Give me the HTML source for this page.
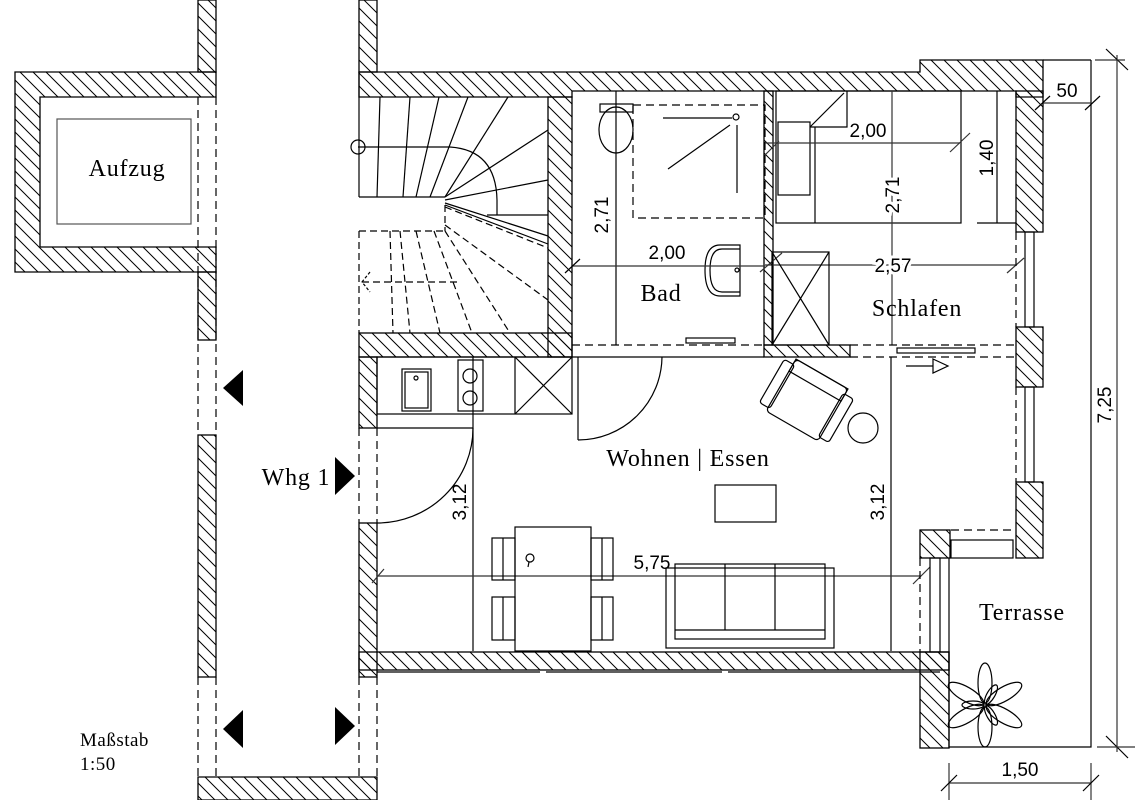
<!DOCTYPE html>
<html><head><meta charset="utf-8"><style>
html,body{margin:0;padding:0;background:#fff}
svg{display:block}
.t{font-family:"Liberation Serif",serif;font-size:24px;letter-spacing:0.8px;fill:#000}
.m{font-family:"Liberation Serif",serif;font-size:19px;letter-spacing:0.5px;fill:#000}
.d text{font-family:"Liberation Sans",sans-serif;font-size:19px;fill:#000}
</style></head><body>
<svg width="1135" height="800" viewBox="0 0 1135 800" xmlns="http://www.w3.org/2000/svg">
<defs>
<pattern id="h" patternUnits="userSpaceOnUse" width="13" height="13">
<path d="M-2,-2 L15,15 M-2,11 L2,15 M11,-2 L15,2" stroke="#000" stroke-width="1"/>
</pattern>
</defs>
<g stroke="#000" stroke-width="1.3" fill="url(#h)">
<path d="M15,72 H216 V97 H40 V247 H216 V272 H15 Z"/>
<rect x="198" y="0" width="18" height="72"/>
<rect x="198" y="272" width="18" height="68"/>
<rect x="198" y="435" width="18" height="242"/>
<rect x="359" y="0" width="18" height="72"/>
<rect x="359" y="523" width="18" height="154"/>
<rect x="359" y="357" width="18" height="71"/>
<path d="M198,777 H377 V800 H198 Z"/>
<path d="M359,72 H920 V60 H1043 V97 H1016 V91 H572 V97 H359 Z"/>
<rect x="1016" y="91" width="27" height="141"/>
<rect x="1016" y="327" width="27" height="60"/>
<rect x="1016" y="482" width="27" height="76"/>
<rect x="920" y="530" width="30" height="28"/>
<rect x="920" y="652" width="29" height="96"/>
<rect x="548" y="97" width="24" height="260"/>
<rect x="359" y="333" width="213" height="24"/>
<rect x="764" y="91" width="9" height="254"/>
<rect x="764" y="345" width="86" height="12"/>
<rect x="359" y="652" width="590" height="18"/>
</g>
<g fill="none" stroke="#000" stroke-width="1.2">
<rect x="57" y="119" width="134" height="105" stroke="#555"/>
<line x1="198" y1="97" x2="198" y2="435" stroke-dasharray="8,5"/>
<line x1="216" y1="97" x2="216" y2="435" stroke-dasharray="8,5"/>
<line x1="198" y1="677" x2="198" y2="777" stroke-dasharray="8,5"/>
<line x1="216" y1="677" x2="216" y2="777" stroke-dasharray="8,5"/>
<line x1="359" y1="72" x2="359" y2="97"/>
<line x1="359" y1="428" x2="359" y2="523" stroke-dasharray="8,5"/>
<line x1="377" y1="428" x2="377" y2="523" stroke-dasharray="8,5"/>
<line x1="359" y1="677" x2="359" y2="777" stroke-dasharray="8,5"/>
<line x1="377" y1="677" x2="377" y2="777" stroke-dasharray="8,5"/>
<line x1="359" y1="97" x2="359" y2="197"/>
<line x1="359" y1="197" x2="445" y2="197"/>
<circle cx="358" cy="147" r="7"/>
<line x1="358" y1="147" x2="450" y2="147"/>
<path d="M450,147 Q496,150 497,200 V215"/>
<line x1="380" y1="97" x2="377" y2="197"/>
<line x1="410" y1="97" x2="403" y2="197"/>
<line x1="439" y1="97" x2="416" y2="197"/>
<line x1="468" y1="97" x2="430" y2="197"/>
<line x1="508" y1="97" x2="445" y2="197"/>
<line x1="445" y1="197" x2="548" y2="130"/>
<line x1="445" y1="200" x2="548" y2="180"/>
<line x1="445" y1="203" x2="548" y2="236"/>
<line x1="445" y1="205" x2="548" y2="244"/>
<line x1="487" y1="215" x2="548" y2="215"/>
<g stroke-dasharray="7,4">
<path d="M359,231 V333"/>
<line x1="359" y1="231" x2="445" y2="231"/>
<line x1="445" y1="205" x2="445" y2="231"/>
<line x1="445" y1="207" x2="548" y2="248"/>
<line x1="445" y1="225" x2="548" y2="300"/>
<line x1="445" y1="231" x2="510" y2="333"/>
<line x1="434" y1="231" x2="472" y2="333"/>
<line x1="416" y1="231" x2="440" y2="333"/>
<line x1="400" y1="231" x2="410" y2="333"/>
<line x1="390" y1="231" x2="393" y2="333"/>
<line x1="362" y1="282" x2="460" y2="282"/>
</g>
<path d="M370,272 L362,282 L370,292" stroke-dasharray="3,2"/>
<line x1="616" y1="91" x2="616" y2="345"/>
<ellipse cx="616" cy="130" rx="17" ry="23"/>
<rect x="600" y="104" width="33" height="8"/>
<rect x="633" y="105" width="132" height="113" stroke-dasharray="8,5"/>
<line x1="663" y1="118" x2="732" y2="118"/>
<line x1="668" y1="169" x2="730" y2="125"/>
<line x1="737" y1="125" x2="737" y2="193"/>
<circle cx="736" cy="117" r="3"/>
<path d="M740,245 H720 Q705,245 705,270 Q705,296 720,296 H740 Z"/>
<path d="M740,249 H722 Q710,249 710,270 Q710,292 722,292 H740"/>
<circle cx="737" cy="270" r="2"/>
<rect x="686" y="338" width="49" height="5"/>
<line x1="572" y1="345" x2="764" y2="345" stroke-dasharray="8,5"/>
<line x1="572" y1="357" x2="764" y2="357"/>
<line x1="572" y1="266" x2="765" y2="266" stroke="#333"/>
<line x1="565" y1="273" x2="580" y2="259"/>
<rect x="776" y="91" width="185" height="132"/>
<rect x="778" y="122" width="32" height="73"/>
<line x1="815" y1="127" x2="815" y2="223"/>
<polyline points="810,127 847,127 847,91"/>
<line x1="810" y1="127" x2="844" y2="93"/>
<line x1="997" y1="91" x2="997" y2="223"/>
<line x1="977" y1="223" x2="1016" y2="223"/>
<line x1="765" y1="143" x2="960" y2="143" stroke="#333"/>
<line x1="892" y1="91" x2="892" y2="345" stroke="#333"/>
<line x1="765" y1="265" x2="1016" y2="265" stroke="#333"/>
<line x1="765" y1="155" x2="779" y2="141" stroke="#333"/><line x1="950" y1="152" x2="970" y2="133" stroke="#333"/>
<line x1="760" y1="272" x2="782" y2="253" stroke="#333"/><line x1="1007" y1="273" x2="1024" y2="258" stroke="#333"/>
<rect x="772" y="252" width="57" height="93"/>
<line x1="772" y1="252" x2="829" y2="345"/><line x1="829" y1="252" x2="772" y2="345"/>
<line x1="1016" y1="232" x2="1016" y2="327" stroke-dasharray="8,5"/>
<rect x="1025" y="232" width="9" height="95"/>
<rect x="1025" y="387" width="9" height="95"/>
<line x1="1016" y1="387" x2="1016" y2="482" stroke-dasharray="8,5"/>
<line x1="850" y1="345" x2="1016" y2="345" stroke-dasharray="8,5"/>
<line x1="850" y1="357" x2="1016" y2="357" stroke-dasharray="8,5"/>
<rect x="897" y="348" width="78" height="5"/>
<line x1="906" y1="366" x2="933" y2="366"/>
<path d="M933,359 L948,366 L933,373 Z"/>
<rect x="377" y="357" width="195" height="57"/>
<rect x="402" y="369" width="29" height="42"/><rect x="405" y="372" width="23" height="36"/>
<circle cx="416" cy="378" r="2"/>
<rect x="458" y="360" width="25" height="51"/>
<circle cx="470" cy="376" r="7"/><circle cx="470" cy="398" r="7"/>
<line x1="515" y1="357" x2="515" y2="414"/>
<line x1="515" y1="357" x2="572" y2="414"/><line x1="572" y1="357" x2="515" y2="414"/>
<line x1="578" y1="357" x2="578" y2="440"/>
<path d="M578,440 A84,84 0 0 0 662,357"/>
<line x1="377" y1="428" x2="473" y2="428"/>
<path d="M377,523 A96,95 0 0 0 473,428"/>
<line x1="473" y1="357" x2="473" y2="651"/>
<line x1="891" y1="357" x2="891" y2="651"/>
<line x1="377" y1="576" x2="920" y2="576" stroke="#333"/>
<line x1="372" y1="583" x2="384" y2="569" stroke="#333"/>
<line x1="913" y1="584" x2="930" y2="567" stroke="#333"/>
<rect x="515" y="527" width="76" height="124"/>
<rect x="492" y="538" width="23" height="42"/><line x1="503" y1="538" x2="503" y2="580"/>
<rect x="492" y="597" width="23" height="43"/><line x1="503" y1="597" x2="503" y2="640"/>
<rect x="591" y="538" width="22" height="42"/><line x1="602" y1="538" x2="602" y2="580"/>
<rect x="591" y="597" width="22" height="43"/><line x1="602" y1="597" x2="602" y2="640"/>
<circle cx="530" cy="558" r="4"/><line x1="529" y1="562" x2="528" y2="567"/>
<rect x="715" y="485" width="61" height="37"/>
<rect x="666" y="568" width="168" height="80"/>
<rect x="675" y="564" width="150" height="75"/>
<line x1="675" y1="630" x2="825" y2="630"/>
<line x1="725" y1="564" x2="725" y2="630"/><line x1="775" y1="564" x2="775" y2="630"/>
<g transform="translate(807,400) rotate(30)">
<rect x="-30" y="-30" width="60" height="60" rx="4"/>
<rect x="-30" y="-30" width="60" height="14"/>
<rect x="-40" y="-24" width="12" height="50" rx="3"/>
<rect x="28" y="-24" width="12" height="50" rx="3"/>
</g>
<circle cx="863" cy="428" r="15"/>
<line x1="951" y1="530" x2="1013" y2="530" stroke-dasharray="8,5"/>
<rect x="951" y="540" width="62" height="18"/>
<line x1="920" y1="558" x2="920" y2="652" stroke-dasharray="8,5"/>
<rect x="930" y="558" width="10" height="94"/>
<line x1="949" y1="558" x2="949" y2="748"/>
<polyline points="949,747 1091,747 1091,60"/>
<line x1="1043" y1="60" x2="1091" y2="60"/>
<line x1="377" y1="672" x2="540" y2="672"/><line x1="546" y1="672" x2="722" y2="672"/><line x1="728" y1="672" x2="940" y2="672"/>
<line x1="1117" y1="55" x2="1117" y2="752" stroke="#333"/>
<line x1="1106" y1="49" x2="1128" y2="70"/><line x1="1106" y1="736" x2="1128" y2="758"/>
<line x1="1095" y1="60" x2="1125" y2="60" stroke="#333"/>
<line x1="1097" y1="747" x2="1135" y2="747" stroke="#333"/>
<line x1="1043" y1="103" x2="1091" y2="103" stroke="#333"/>
<line x1="1035" y1="110" x2="1050" y2="96"/><line x1="1085" y1="110" x2="1100" y2="96"/>
<line x1="949" y1="763" x2="949" y2="800" stroke="#333"/>
<line x1="1091" y1="763" x2="1091" y2="800" stroke="#333"/>
<line x1="949" y1="783" x2="1091" y2="783" stroke="#333"/>
<line x1="941" y1="791" x2="957" y2="775"/><line x1="1083" y1="791" x2="1099" y2="775"/>
<g transform="translate(985,705)">
<ellipse cx="0" cy="-22" rx="7" ry="20"/>
<ellipse cx="0" cy="-22" rx="7" ry="20" transform="rotate(60)"/>
<ellipse cx="0" cy="-22" rx="7" ry="20" transform="rotate(120)"/>
<ellipse cx="0" cy="-22" rx="7" ry="20" transform="rotate(180)"/>
<ellipse cx="0" cy="-22" rx="7" ry="20" transform="rotate(240)"/>
<ellipse cx="0" cy="-22" rx="7" ry="20" transform="rotate(300)"/>
<ellipse cx="0" cy="-12" rx="4" ry="11" transform="rotate(30)"/>
<ellipse cx="0" cy="-12" rx="4" ry="11" transform="rotate(150)"/>
<ellipse cx="0" cy="-12" rx="4" ry="11" transform="rotate(270)"/>
</g>
</g>
<g fill="#000">
<path d="M243,370 L223,388 L243,406 Z"/>
<path d="M243,710 L223,729 L243,748 Z"/>
<path d="M335,457 L355,476 L335,495 Z"/>
<path d="M335,707 L355,726 L335,745 Z"/>
</g>
<text class="t" x="127" y="176" text-anchor="middle">Aufzug</text>
<text class="t" x="296" y="485" text-anchor="middle">Whg 1</text>
<text class="m" x="80" y="746">Maßstab</text>
<text class="m" x="80" y="770">1:50</text>
<text class="t" x="661" y="301" text-anchor="middle">Bad</text>
<text class="t" x="917" y="316" text-anchor="middle">Schlafen</text>
<text class="t" x="688" y="466" text-anchor="middle">Wohnen | Essen</text>
<text class="t" x="1022" y="620" text-anchor="middle">Terrasse</text>
<g class="d">
<text x="667" y="259" text-anchor="middle">2,00</text>
<text x="868" y="137" text-anchor="middle">2,00</text>
<text x="893" y="272" text-anchor="middle" style="paint-order:stroke;stroke:#fff;stroke-width:6">2,57</text>
<text x="652" y="569" text-anchor="middle">5,75</text>
<text x="1067" y="97" text-anchor="middle">50</text>
<text x="1020" y="776" text-anchor="middle">1,50</text>
<text transform="translate(608,215) rotate(-90)" text-anchor="middle">2,71</text>
<text transform="translate(899,195) rotate(-90)" text-anchor="middle" style="paint-order:stroke;stroke:#fff;stroke-width:6">2,71</text>
<text transform="translate(993,158) rotate(-90)" text-anchor="middle">1,40</text>
<text transform="translate(466,502) rotate(-90)" text-anchor="middle">3,12</text>
<text transform="translate(884,502) rotate(-90)" text-anchor="middle">3,12</text>
<text transform="translate(1111,405) rotate(-90)" text-anchor="middle">7,25</text>
</g>
</svg>
</body></html>
